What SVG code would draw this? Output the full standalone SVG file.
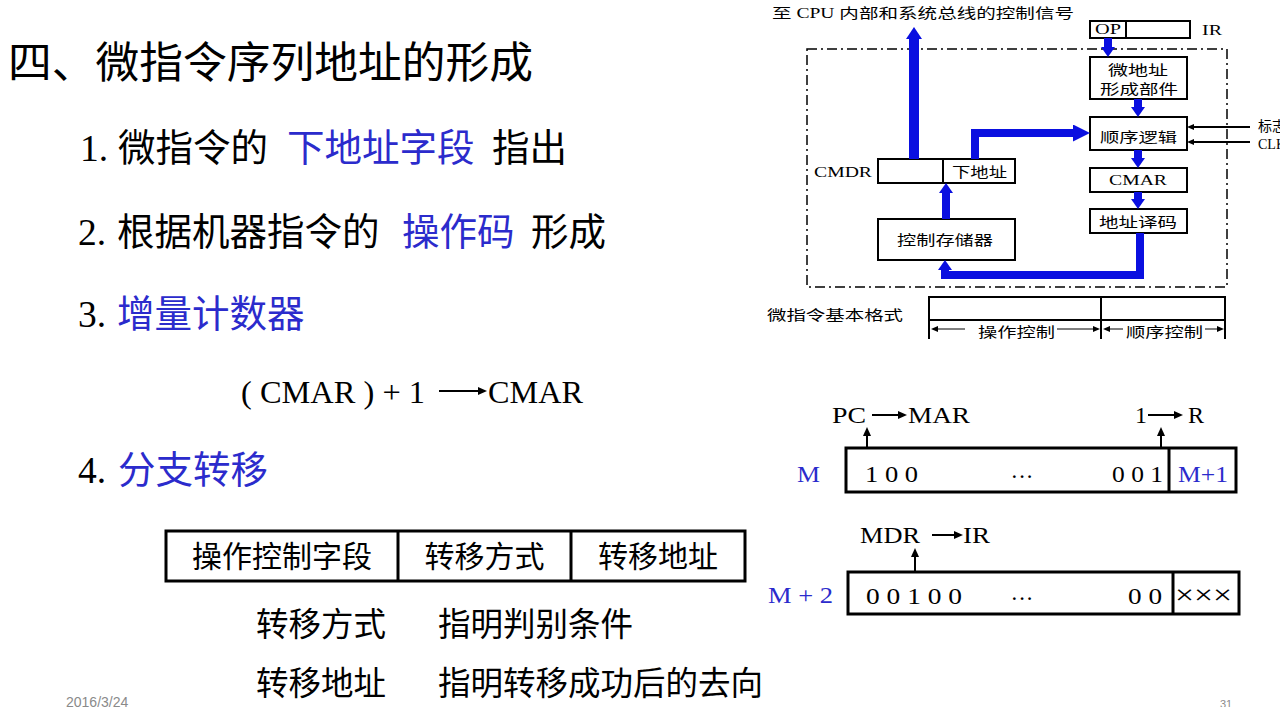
<svg xmlns="http://www.w3.org/2000/svg" width="1280" height="707" viewBox="0 0 1280 707">
  <style>
    .t { font-family: "Liberation Serif", "Noto Sans CJK SC", serif; fill: #000; }
    .c { font-family: "Liberation Serif", "Noto Sans CJK SC", serif; fill: #000; font-size: 14px; }
    .b { fill: #2b2bcc; }
    .box { fill: #fff; stroke: #000; stroke-width: 2; }
    .frame { fill: #fff; stroke: #000; stroke-width: 3; }
    .bus { fill: none; stroke: #0a0fe0; stroke-width: 8; stroke-linejoin: miter; }
    .wire { fill: none; stroke: #000; stroke-width: 2; }
    .thin { fill: none; stroke: #000; stroke-width: 1; }
  </style>
  <defs>
    <marker id="ah" viewBox="0 0 10 14" refX="0" refY="7" markerWidth="10" markerHeight="14" markerUnits="userSpaceOnUse" orient="auto">
      <path d="M0,0 L10,7 L0,14 Z" fill="#0a0fe0"/>
    </marker>
    <marker id="ahL" viewBox="0 0 17 17" refX="0" refY="8.5" markerWidth="17" markerHeight="17" markerUnits="userSpaceOnUse" orient="auto">
      <path d="M0,0 L17,8.5 L0,17 Z" fill="#0a0fe0"/>
    </marker>
    <marker id="ahB" viewBox="0 0 12 16" refX="0" refY="8" markerWidth="12" markerHeight="16" markerUnits="userSpaceOnUse" orient="auto">
      <path d="M0,0 L12,8 L0,16 Z" fill="#0a0fe0"/>
    </marker>
    <marker id="kh" viewBox="0 0 9 8" refX="0" refY="4" markerWidth="9" markerHeight="8" markerUnits="userSpaceOnUse" orient="auto">
      <path d="M0,0 L9,4 L0,8 Z" fill="#000"/>
    </marker>
    <marker id="ks" viewBox="0 0 7 6" refX="0" refY="3" markerWidth="7" markerHeight="6" markerUnits="userSpaceOnUse" orient="auto">
      <path d="M0,0 L7,3 L0,6 Z" fill="#000"/>
    </marker>
  </defs>

  <rect width="1280" height="707" fill="#fff"/>

  <!-- left column: heading and list -->
  <g id="title">
    <text class="t" x="8" y="78" font-size="43" textLength="525" lengthAdjust="spacingAndGlyphs">四、微指令序列地址的形成</text>
  </g>
  <g id="item1">
    <text class="t" y="161" font-size="37.5"><tspan x="80">1.</tspan><tspan x="118">微指令的</tspan><tspan x="287" class="b">下地址字段</tspan><tspan x="492">指出</tspan></text>
  </g>
  <g id="item2">
    <text class="t" y="245" font-size="37.5"><tspan x="78">2.</tspan><tspan x="117">根据机器指令的</tspan><tspan x="402" class="b">操作码</tspan><tspan x="531">形成</tspan></text>
  </g>
  <g id="item3">
    <text class="t" y="327" font-size="37.5"><tspan x="78">3.</tspan><tspan x="117" class="b">增量计数器</tspan></text>
  </g>
  <g id="increment">
    <text class="t" x="241" y="403" font-size="31" textLength="184" lengthAdjust="spacingAndGlyphs">( CMAR ) + 1</text>
    <line class="wire" x1="439" y1="391" x2="478" y2="391" marker-end="url(#kh)"/>
    <text class="t" x="488" y="403" font-size="31" textLength="95" lengthAdjust="spacingAndGlyphs">CMAR</text>
  </g>
  <g id="item4">
    <text class="t" y="483" font-size="37.5"><tspan x="78">4.</tspan><tspan x="118" class="b">分支转移</tspan></text>
  </g>

  <!-- branch micro-instruction format -->
  <g id="branch-format">
    <rect class="frame" x="166" y="531" width="579" height="50"/>
    <line class="frame" x1="398" y1="531" x2="398" y2="581"/>
    <line class="frame" x1="571" y1="531" x2="571" y2="581"/>
    <text class="t" x="282" y="567" font-size="30" text-anchor="middle">操作控制字段</text>
    <text class="t" x="484.5" y="567" font-size="30" text-anchor="middle">转移方式</text>
    <text class="t" x="658" y="567" font-size="30" text-anchor="middle">转移地址</text>
  </g>
  <g id="branch-notes">
    <text class="t" x="256" y="636" font-size="32.5">转移方式</text>
    <text class="t" x="438" y="636" font-size="32.5">指明判别条件</text>
    <text class="t" x="256" y="695" font-size="32.5">转移地址</text>
    <text class="t" x="438" y="695" font-size="32.5">指明转移成功后的去向</text>
  </g>

  <!-- footer -->
  <g id="footer">
    <text x="66" y="707" font-family="Liberation Sans, sans-serif" font-size="14" fill="#8a8a8a">2016/3/24</text>
    <text x="1220" y="708" font-family="Liberation Sans, sans-serif" font-size="11" fill="#8a8a8a">31</text>
  </g>

  <!-- microprogram controller block diagram -->
  <g id="controller-frame">
    <rect x="807" y="49" width="420" height="238" fill="none" stroke="#000" stroke-width="1.5" stroke-dasharray="10 4 2 4"/>
    <text class="c" x="772" y="18" textLength="302" lengthAdjust="spacingAndGlyphs">至 CPU 内部和系统总线的控制信号</text>
  </g>
  <g id="ir">
    <rect class="box" x="1090" y="21" width="100" height="17"/>
    <line class="box" x1="1126" y1="21" x2="1126" y2="38"/>
    <text class="c" x="1095" y="34" textLength="26" lengthAdjust="spacingAndGlyphs">OP</text>
    <text class="c" x="1202" y="35" textLength="20" lengthAdjust="spacingAndGlyphs">IR</text>
  </g>
  <g id="addr-former">
    <rect class="box" x="1090" y="57" width="97" height="42"/>
    <text class="c" x="1108" y="75" textLength="60" lengthAdjust="spacingAndGlyphs">微地址</text>
    <text class="c" x="1100" y="94" textLength="78" lengthAdjust="spacingAndGlyphs">形成部件</text>
  </g>
  <g id="seq-logic">
    <rect class="box" x="1090" y="117" width="97" height="33"/>
    <text class="c" x="1100" y="142" textLength="77" lengthAdjust="spacingAndGlyphs">顺序逻辑</text>
    <text class="c" x="1258" y="131">标志</text>
    <text class="c" x="1258" y="149">CLK</text>
  </g>
  <g id="cmar">
    <rect class="box" x="1090" y="168" width="97" height="24"/>
    <text class="c" x="1109" y="185" textLength="58" lengthAdjust="spacingAndGlyphs">CMAR</text>
  </g>
  <g id="addr-decoder">
    <rect class="box" x="1090" y="209" width="97" height="24"/>
    <text class="c" x="1099" y="227" textLength="78" lengthAdjust="spacingAndGlyphs">地址译码</text>
  </g>
  <g id="cmdr">
    <rect class="box" x="878" y="159" width="137" height="24"/>
    <line class="box" x1="943" y1="159" x2="943" y2="183"/>
    <text class="c" x="814" y="177" textLength="58" lengthAdjust="spacingAndGlyphs">CMDR</text>
    <text class="c" x="952" y="177" textLength="55" lengthAdjust="spacingAndGlyphs">下地址</text>
  </g>
  <g id="control-store">
    <rect class="box" x="878" y="219" width="137" height="41"/>
    <text class="c" x="897" y="245" textLength="96" lengthAdjust="spacingAndGlyphs">控制存储器</text>
  </g>
  <g id="micro-format">
    <text class="c" x="767" y="320" textLength="136" lengthAdjust="spacingAndGlyphs">微指令基本格式</text>
    <path class="wire" d="M929,339 V297 H1225 V339 M929,320 H1225 M1101,297 V339"/>
    <line class="thin" x1="965" y1="329" x2="938" y2="329" marker-end="url(#ks)"/>
    <line class="thin" x1="1057" y1="329" x2="1093" y2="329" marker-end="url(#ks)"/>
    <line class="thin" x1="1123" y1="329" x2="1110" y2="329" marker-end="url(#ks)"/>
    <line class="thin" x1="1205" y1="329" x2="1217" y2="329" marker-end="url(#ks)"/>
    <text class="c" x="978" y="337" textLength="77" lengthAdjust="spacingAndGlyphs">操作控制</text>
    <text class="c" x="1126" y="337" textLength="77" lengthAdjust="spacingAndGlyphs">顺序控制</text>
  </g>

  <!-- controller data paths -->
  <g id="connectors">
    <line x1="914" y1="159" x2="914" y2="39" fill="none" stroke="#0a0fe0" stroke-width="10" marker-end="url(#ahB)"/>
    <line class="bus" x1="1108" y1="38" x2="1108" y2="47" marker-end="url(#ah)"/>
    <line class="bus" x1="1138" y1="99" x2="1138" y2="107" marker-end="url(#ah)"/>
    <line class="bus" x1="1138" y1="150" x2="1138" y2="158" marker-end="url(#ah)"/>
    <line class="bus" x1="1138" y1="192" x2="1138" y2="199" marker-end="url(#ah)"/>
    <path class="bus" d="M975,159 V133 H1073" marker-end="url(#ahL)"/>
    <path class="bus" d="M1140,233 V275 H945 V270" marker-end="url(#ah)"/>
    <line class="bus" x1="946" y1="219" x2="946" y2="193" marker-end="url(#ah)"/>
    <line class="wire" x1="1250" y1="127" x2="1194" y2="127" marker-end="url(#ks)"/>
    <line class="wire" x1="1250" y1="142" x2="1194" y2="142" marker-end="url(#ks)"/>
  </g>

  <!-- micro-instruction words at M and M+2 -->
  <g id="word-m">
    <rect class="frame" x="846" y="448" width="390" height="44"/>
    <line class="frame" x1="1169" y1="448" x2="1169" y2="492"/>
    <text class="t b" x="797" y="482" font-size="23" textLength="23" lengthAdjust="spacingAndGlyphs">M</text>
    <text class="t" x="865" y="482" font-size="23" textLength="53" lengthAdjust="spacingAndGlyphs">1 0 0</text>
    <text class="t" x="1022" y="484" font-size="23" text-anchor="middle">···</text>
    <text class="t" x="1112" y="482" font-size="23" textLength="51" lengthAdjust="spacingAndGlyphs">0 0 1</text>
    <text class="t b" x="1178" y="482" font-size="23" textLength="50" lengthAdjust="spacingAndGlyphs">M+1</text>
    <text class="t" x="832" y="423" font-size="24" textLength="34" lengthAdjust="spacingAndGlyphs">PC</text>
    <text class="t" x="908" y="423" font-size="24" textLength="62" lengthAdjust="spacingAndGlyphs">MAR</text>
    <text class="t" x="1135" y="423" font-size="24">1</text>
    <text class="t" x="1188" y="423" font-size="24">R</text>
  </g>
  <g id="word-m2">
    <rect class="frame" x="848" y="572" width="391" height="42"/>
    <line class="frame" x1="1173" y1="572" x2="1173" y2="614"/>
    <text class="t b" x="768" y="603" font-size="23" textLength="65" lengthAdjust="spacingAndGlyphs">M + 2</text>
    <text class="t" x="866" y="604" font-size="23" textLength="96" lengthAdjust="spacingAndGlyphs">0 0 1 0 0</text>
    <text class="t" x="1022" y="606" font-size="23" text-anchor="middle">···</text>
    <text class="t" x="1128" y="604" font-size="23" textLength="34" lengthAdjust="spacingAndGlyphs">0 0</text>
    <text class="t" x="1175" y="604" font-size="27" textLength="57" lengthAdjust="spacingAndGlyphs">×××</text>
    <text class="t" x="860" y="543" font-size="24" textLength="60" lengthAdjust="spacingAndGlyphs">MDR</text>
    <text class="t" x="963" y="543" font-size="24" textLength="27" lengthAdjust="spacingAndGlyphs">IR</text>
  </g>
  <g id="word-arrows">
    <line class="wire" x1="872" y1="415" x2="898" y2="415" marker-end="url(#kh)"/>
    <line class="wire" x1="1148" y1="415" x2="1174" y2="415" marker-end="url(#kh)"/>
    <line class="wire" x1="867" y1="448" x2="867" y2="436" marker-end="url(#kh)"/>
    <line class="wire" x1="1161" y1="448" x2="1161" y2="436" marker-end="url(#kh)"/>
    <line class="wire" x1="932" y1="535" x2="954" y2="535" marker-end="url(#kh)"/>
    <line class="wire" x1="915" y1="572" x2="915" y2="557" marker-end="url(#kh)"/>
  </g>
</svg>
